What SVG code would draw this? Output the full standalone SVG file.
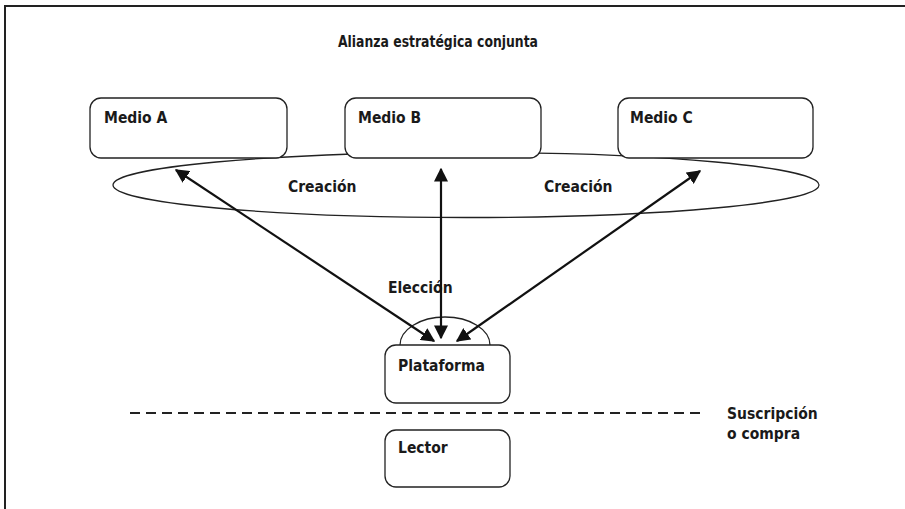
<svg xmlns="http://www.w3.org/2000/svg" width="905" height="509" viewBox="0 0 905 509">
<defs>
<style>
.frame{fill:none;stroke:#222;stroke-width:2}
.box{fill:#fff;stroke:#222;stroke-width:1.3}
.line{fill:none;stroke:#222;stroke-width:1.3}
.arr{fill:none;stroke:#111;stroke-width:2.2}
.t{font-family:"DejaVu Sans Condensed","DejaVu Sans",sans-serif;font-weight:bold;font-size:15.5px;fill:#1a1a1a}
.title{font-family:"DejaVu Sans Condensed","DejaVu Sans",sans-serif;font-weight:bold;font-size:16px;fill:#1a1a1a}
</style>
<marker id="ah" viewBox="0 0 10 10" refX="9" refY="5" markerWidth="14" markerHeight="14" markerUnits="userSpaceOnUse" orient="auto-start-reverse">
<path d="M0,0 L10,5 L0,10 Z" fill="#111"/>
</marker>
</defs>
<rect width="905" height="509" fill="#fff"/>
<path class="frame" d="M5,509 V6 H905"/>
<text class="title" x="338" y="47" textLength="200" lengthAdjust="spacingAndGlyphs">Alianza estratégica conjunta</text>
<ellipse class="line" cx="466" cy="185" rx="353" ry="32.5"/>
<g id="medioA"><rect class="box" x="90" y="98" width="197" height="60" rx="11"/><text class="t" x="104" y="123">Medio A</text></g>
<g id="medioB"><rect class="box" x="345" y="98" width="196" height="60" rx="11"/><text class="t" x="358" y="123">Medio B</text></g>
<g id="medioC"><rect class="box" x="618" y="98" width="195" height="60" rx="11"/><text class="t" x="630" y="123">Medio C</text></g>
<text class="t" x="288" y="192">Creación</text>
<text class="t" x="544" y="192">Creación</text>
<g id="eleccion"><path class="line" d="M400,345 A45,28 0 0 1 490,345"/><text class="t" x="388" y="293">Elección</text></g>
<g id="plataforma"><rect class="box" x="385" y="345" width="125" height="58" rx="11"/><text class="t" x="398" y="371">Plataforma</text></g>
<g id="lector"><rect class="box" x="385" y="430" width="125" height="57" rx="11"/><text class="t" x="398" y="453">Lector</text></g>
<line x1="130" y1="413" x2="700" y2="413" stroke="#222" stroke-width="2.2" stroke-dasharray="10,6"/>
<text class="t" x="727" y="419">Suscripción</text>
<text class="t" x="727" y="439">o compra</text>
<g id="connectors">
<line class="arr" x1="176" y1="170" x2="434" y2="341" marker-start="url(#ah)" marker-end="url(#ah)"/>
<line class="arr" x1="441" y1="169" x2="441" y2="338" marker-start="url(#ah)" marker-end="url(#ah)"/>
<line class="arr" x1="700" y1="171" x2="457" y2="341" marker-start="url(#ah)" marker-end="url(#ah)"/>
</g>
</svg>
